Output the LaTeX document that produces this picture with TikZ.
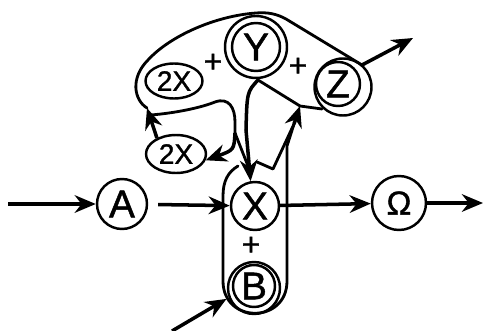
\documentclass[tikz,border=0pt]{standalone}
\usepackage{fontspec}
\setmainfont{Liberation Sans}
\newfontfamily\spfont{Liberation Sans}[FakeBold=1.2]
\usetikzlibrary{arrows.meta, positioning, calc, shapes.geometric}

\tikzset{
  species/.style={circle, draw, line width=1.4pt, inner sep=0pt, font=\spfont\fontsize{22}{22}\selectfont},
  pairspec/.style={ellipse, draw, line width=1.4pt, inner sep=0pt, font=\spfont\fontsize{16}{16}\selectfont},
  ring/.style={line width=1.4pt},
  outline/.style={line width=1.6pt, line join=round, line cap=round},
  flow/.style={line width=2pt, -{Stealth[length=12pt, width=10pt]}},
  plussign/.style={inner sep=0pt, font=\spfont\fontsize{18}{18}\selectfont},
}

\begin{document}
\begin{tikzpicture}[x=0.02cm, y=-0.02cm]
\useasboundingbox (0,0) rectangle (483,331);
% species
\node[species, minimum size=1.0cm] (A) at (122,204) {A};
\node[species, minimum size=0.96cm] (X) at (255,206) {X};
\node[species, minimum size=1.08cm, font=\spfont\fontsize{19}{19}\selectfont] (Om) at (399,203) {Ω};
\node[species, minimum size=0.84cm] (B) at (254,286) {B};
\node[species, minimum size=0.96cm] (Y) at (256,47) {Y};
\node[species, minimum size=0.88cm] (Z) at (338,84) {Z};
\node[pairspec, minimum width=1.14cm, minimum height=0.7cm] (X2a) at (174,81) {2X};
\node[pairspec, minimum width=1.2cm, minimum height=0.76cm] (X2b) at (176,154) {2X};
\node[plussign] (pXB) at (251,246) {+};
\node[plussign] (p2XY) at (213,63) {+};
\node[plussign] (pYZ) at (298,67) {+};
% rings round the species that sit in a complex
\draw[ring] (Y) circle[radius=0.62cm];
\draw[ring] ($(Z)+(5,3)$) circle[radius=0.57cm];
\draw[ring] ($(B)+(0,2)$) circle[radius=0.52cm];
% free ends
\coordinate (inA) at (8,204);
\coordinate (outOm) at (483,203);
\coordinate (inB) at (172,331);
\coordinate (outZ) at (413,38);
\coordinate (zjoin) at (362,65);
\coordinate (ybot) at (258,80);
\coordinate (yzlow) at (300,106);
\coordinate (ltip) at (147,108);
\coordinate (split) at (235,133);
\coordinate (ujoin) at (294,124);
% complex 2X + Y + Z
\draw[outline] (ltip) .. controls (134,100) and (130,78) .. (148,60)
  .. controls (170,36) and (215,16) .. (256,13)
  .. controls (268,12) and (277,14) .. (286,19) -- (zjoin);
\draw[outline] (ybot) -- (yzlow) -- (322,109);
\draw[outline] (151,115) .. controls (175,113) and (200,108) .. (215,102)
  .. controls (229,97) and (235,108) .. (235,122) -- (split);
% complex X + B
\draw[outline] (238,166) .. controls (228,172) and (223,181) .. (223,196)
  -- (223,281) .. controls (223,324) and (287,324) .. (287,281)
  -- (287,146) -- (ujoin);
\draw[outline] (257,162) -- (273,169) -- (ujoin);
% reactions
\draw[flow] (inA) -- (A);
\draw[flow, shorten <=0.2cm] (A) -- (X);
\draw[flow] (X) -- (Om);
\draw[flow] (Om) -- (outOm);
\draw[flow, shorten >=1pt] (inB) -- ($(B)+(-26,12)$);
\draw[flow] (zjoin) -- (outZ);
\draw[flow] (ujoin) -- (yzlow);
\draw[flow] (ybot) .. controls (247,92) .. (246,130) -- (X.100);
\draw[outline] (split) -- (248,166);
\draw[flow] (split) .. controls (234,150) .. (X2b.-12);
\draw[flow] (X2b.140) -- (ltip);
\end{tikzpicture}
\end{document}
